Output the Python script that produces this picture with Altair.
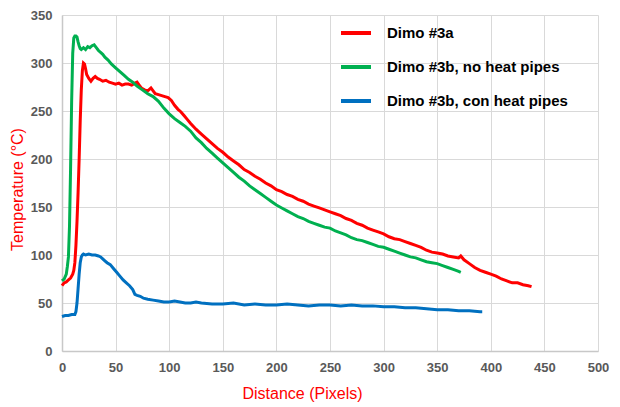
import pandas as pd
import altair as alt

# Dimo #3a (red)
red_x = [0, 2, 4, 6, 8, 10, 11, 12, 13, 14, 15, 16, 17, 18, 19, 20, 21, 22, 23, 25,
         27, 29, 31, 33, 35, 38, 41, 44, 47, 50, 53, 56, 59, 62, 65, 68, 70, 72, 74, 77,
         80, 83, 85, 87, 90, 93, 96, 99, 102, 105, 108, 111, 114, 117, 120, 125, 130, 135, 140, 145,
         150, 155, 160, 165, 170, 175, 180, 185, 190, 195, 200, 205, 210, 215, 220, 225, 230, 235, 240, 245,
         250, 255, 260, 265, 270, 275, 280, 285, 290, 295, 300, 305, 310, 315, 320, 325, 330, 335, 340, 345,
         350, 355, 360, 365, 370, 372, 375, 380, 385, 390, 395, 400, 405, 410, 415, 420, 425, 430, 435, 438]
red_y = [68, 71, 72, 74, 76, 80, 84, 92, 110, 135, 165, 200, 240, 272, 292, 300, 299, 294, 288, 284,
         281, 284, 286, 284, 283, 281, 282, 280, 279, 278, 279, 277, 278, 278, 277, 279, 280, 277, 274, 272,
         271, 274, 271, 268, 267, 266, 265, 264, 261, 256, 252, 249, 245, 241, 237, 231, 226, 221, 216, 211,
         207, 202, 198, 194, 189, 186, 182, 179, 175, 172, 168, 166, 163, 161, 158, 156, 153, 151, 149, 147,
         145, 143, 141, 138, 136, 133, 131, 128, 126, 124, 122, 119, 117, 116, 114, 112, 110, 108, 105, 103,
         102, 101, 99, 98, 97, 99, 95, 91, 87, 84, 82, 80, 78, 75, 73, 71, 71, 69, 68, 67]

# Dimo #3b, no heat pipes (green)
green_x = [0, 2, 4, 5, 6, 7, 8, 9, 10, 11, 12, 13, 14, 15, 16, 17, 18, 20, 22, 24,
           26, 28, 30, 32, 34, 36, 38, 40, 43, 46, 50, 54, 58, 62, 66, 70, 75, 80, 85, 90,
           95, 100, 105, 110, 115, 120, 125, 130, 135, 140, 145, 150, 155, 160, 165, 170, 175, 180, 185, 190,
           195, 200, 205, 210, 215, 220, 225, 230, 235, 240, 245, 250, 255, 260, 265, 270, 275, 280, 285, 290,
           295, 300, 305, 310, 315, 320, 325, 330, 335, 340, 345, 350, 355, 360, 365, 370, 372]
green_y = [73, 75, 80, 88, 98, 130, 190, 260, 310, 326, 328, 328, 327, 322, 318, 315, 314, 316, 314, 317,
           316, 318, 319, 316, 313, 311, 309, 306, 303, 299, 295, 291, 287, 283, 280, 276, 272, 268, 265, 260,
           253, 247, 242, 238, 234, 229, 222, 217, 211, 206, 201, 196, 191, 186, 181, 177, 172, 168, 164, 160,
           156, 152, 149, 146, 143, 140, 138, 135, 133, 131, 129, 128, 125, 123, 121, 118, 116, 115, 113, 111,
           109, 108, 106, 104, 102, 100, 98, 97, 95, 93, 92, 91, 89, 87, 85, 83, 82]

# Dimo #3b, con heat pipes (blue)
blue_x = [0, 3, 6, 9, 12, 13, 14, 15, 16, 17, 18, 19, 20, 22, 25, 28, 31, 34, 36, 38,
          40, 42, 45, 48, 51, 54, 57, 60, 63, 66, 68, 70, 73, 76, 80, 85, 90, 95, 100, 105,
          110, 115, 120, 125, 130, 140, 150, 160, 170, 180, 190, 200, 210, 220, 230, 240, 250, 260, 270, 280,
          290, 300, 310, 320, 330, 340, 350, 360, 370, 380, 390, 392]
blue_y = [36, 37, 37, 38, 38, 41, 50, 65, 80, 92, 98, 100, 101, 100, 101, 100, 100, 99, 98, 96,
          94, 92, 90, 86, 82, 78, 74, 71, 68, 64, 59, 58, 57, 55, 54, 53, 52, 51, 51, 52,
          51, 50, 50, 51, 50, 49, 49, 50, 48, 49, 48, 48, 49, 48, 47, 48, 48, 47, 48, 47,
          47, 46, 46, 45, 45, 44, 43, 43, 42, 42, 41, 41]

series = ['Dimo #3a', 'Dimo #3b, no heat pipes', 'Dimo #3b, con heat pipes']
colors = ['#ff0000', '#00b050', '#0070c0']

frames = []
for name, xs, ys in zip(series, [red_x, green_x, blue_x], [red_y, green_y, blue_y]):
    frames.append(pd.DataFrame({'x': xs, 'y': ys, 'serie': name}))
df = pd.concat(frames)

font = 'Liberation Sans'

chart = alt.Chart(df).mark_line(strokeWidth=3).encode(
    x=alt.X('x:Q', title='Distance (Pixels)',
            scale=alt.Scale(domain=[0, 500], nice=False),
            axis=alt.Axis(values=list(range(0, 501, 50)), titleX=240, titleY=42,
                          titleBaseline='middle', labelFlush=False)),
    y=alt.Y('y:Q', title='Temperature (°C)',
            scale=alt.Scale(domain=[0, 350], nice=False),
            axis=alt.Axis(values=list(range(0, 351, 50)), titleX=-45, titleY=174,
                          titleAngle=-90, titleBaseline='middle', titleAlign='center',
                          labelFlush=False)),
    color=alt.Color('serie:N', sort=series,
                    scale=alt.Scale(domain=series, range=colors),
                    legend=alt.Legend(title=None, orient='none', legendX=277, legendY=1,
                                      symbolType='stroke', symbolSize=900, symbolStrokeWidth=4,
                                      labelOffset=14, rowPadding=9, padding=0,
                                      labelFont=font, labelFontSize=15, labelFontWeight='bold',
                                      labelColor='#000000', labelLimit=300)),
    order=alt.value(0),
).properties(
    width=536, height=336,
    autosize=alt.AutoSizeParams(type='none'),
    padding={'left': 54, 'top': 7, 'right': 14, 'bottom': 54},
).configure_view(
    strokeWidth=0
).configure_axis(
    labelFont=font, labelFontSize=13, labelFontWeight='bold', labelColor='#595959',
    titleFont=font, titleFontSize=16, titleFontWeight='normal', titleColor='#ff0000',
    gridColor='#d9d9d9', gridWidth=1, domainColor='#c8c8c8', domainWidth=1.5,
    ticks=False, labelPadding=10,
)

chart.save("out.html", embed_options={"renderer": "svg", "actions": False})
